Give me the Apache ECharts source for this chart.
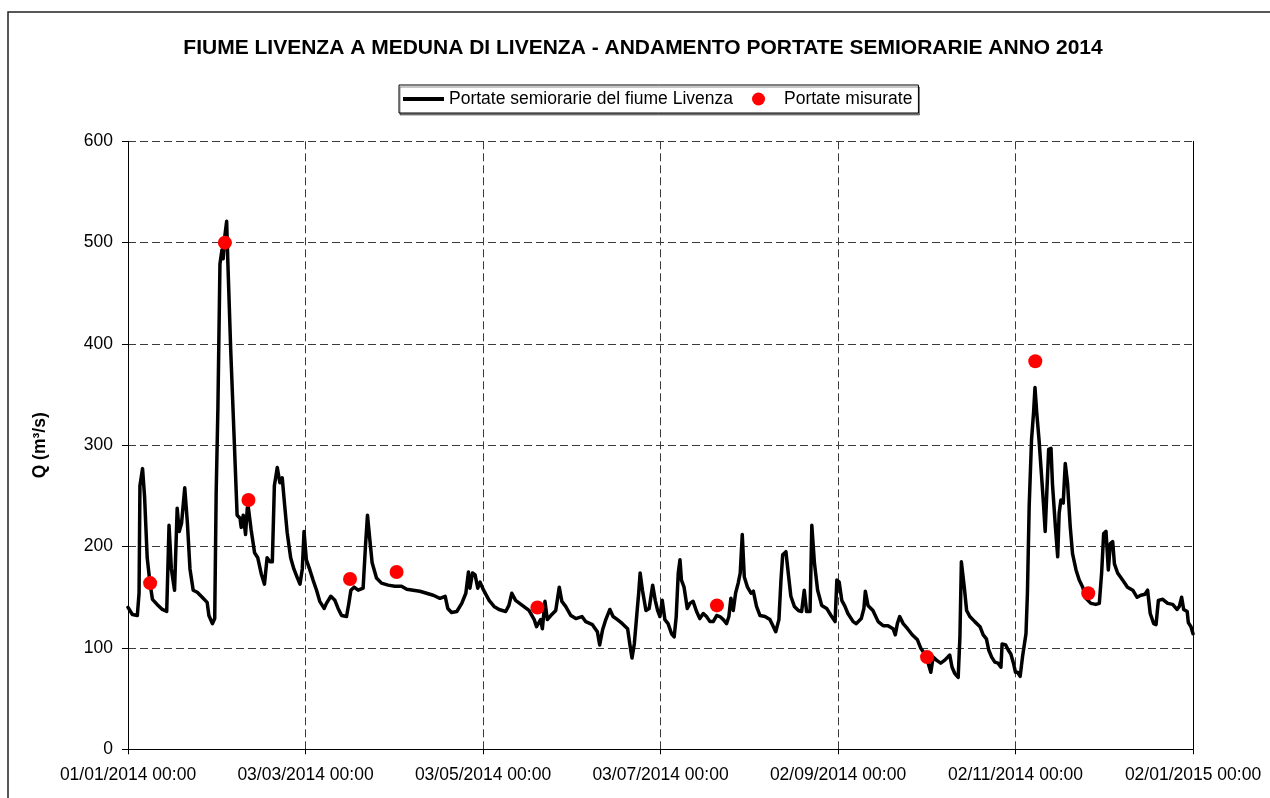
<!DOCTYPE html>
<html>
<head>
<meta charset="utf-8">
<script src="https://cdn.jsdelivr.net/npm/echarts@6/dist/echarts.min.js"></script>
<style>
  html, body { margin: 0; padding: 0; background: #fff; }
  #main { width: 1270px; height: 798px; }
</style>
</head>
<body>
<div id="main"></div>
<script>
// giorni dal 01/01/2014 00:00 e portate semiorarie
var flowDays = [
  0, 1.5, 3.2, 3.8, 4.1, 5.0, 5.7, 6.6, 7.6, 8.4, 10, 11.8, 13.3, 14.1, 14.9, 16, 16.9, 17.6, 18.4, 19.5,
  20.4, 21.3, 22.4, 23.8, 25.5, 27.2, 27.8, 29, 29.8, 30.3, 30.9, 31.6, 32.3, 32.7, 33.3, 33.9, 34.3, 35.3, 36.4, 37.5,
  38.5, 38.9, 39.6, 40.4, 41, 41.3, 42.3, 43.5, 44.6, 45.8, 46.9, 47.8, 48.8, 49.6, 50.3, 51.3, 52.2, 53, 53.8, 54.7,
  55.9, 57, 58.1, 59.1, 59.9, 60.5, 61.3, 62.5, 63.6, 64.8, 65.9, 67.4, 68.2, 69.7, 71.1, 72.2, 73.4, 75.1, 75.9, 76.6,
  77.7, 79.1, 80.8, 81.6, 82.3, 83.1, 83.9, 85.4, 87.1, 89.4, 91.7, 94, 95.8, 98, 100.3, 102.6, 104.9, 107.2, 109, 109.9,
  111.2, 113, 114.7, 116.1, 117, 117.5, 118.4, 119.3, 120.2, 121, 122.2, 124.1, 125.8, 127.5, 129.8, 130.9, 131.9, 133.2, 135.5, 137.8,
  139.6, 140.4, 141.8, 142.4, 143.3, 144.1, 145.3, 147, 148.2, 149.1, 150.4, 152.2, 153.9, 156, 157.3, 159.6, 161.3, 162.1, 163.1, 164.2,
  165.6, 166.7, 168.2, 169.9, 171.7, 172.5, 173.2, 174, 174.8, 175.5, 176, 176.8, 178, 179.1, 180.3, 181.2, 182, 182.8, 183.6, 184.5,
  185.6, 186.8, 187.7, 188.4, 189.1, 189.7, 190.2, 191.1, 192.2, 193.1, 194.2, 195.4, 196.5, 197.7, 198.8, 200, 201.1, 202.3, 203.4, 204.6,
  205.7, 206.5, 207.2, 208, 208.8, 209.7, 210.4, 211.1, 211.8, 212.9, 214.1, 214.9, 216, 217.2, 218.9, 220.6, 221.8, 222.6, 223.7, 224.4,
  225, 226.1, 226.9, 227.8, 229, 230.4, 231.5, 232.4, 233.2, 234.4, 235, 235.9, 237, 238.4, 240.1, 241.6, 243, 243.6, 244.4, 245.3,
  246.4, 247.4, 249.2, 250.3, 252, 252.9, 253.4, 254.3, 256, 257.8, 259.5, 261.2, 262.9, 263.7, 264.4, 265.2, 266.4, 267.9, 269.5, 271.3,
  272.4, 273.6, 275, 275.9, 276.7, 277.8, 279.3, 280.7, 282.4, 283.2, 284.1, 285.3, 285.9, 286.4, 287.4, 288.2, 289.3, 291, 292.8, 293.9,
  295, 295.8, 296.8, 297.9, 299, 300, 300.4, 301.6, 302.5, 303.4, 304.3, 305, 305.7, 306.6, 307.4, 308.6, 309.1, 309.7, 310.5, 311.2,
  311.7, 312.3, 313.1, 313.9, 314.6, 315.2, 315.8, 316.4, 317.2, 317.7, 318.7, 319.5, 320, 320.6, 321.4, 322.1, 322.9, 323.8, 324.6, 325.8,
  326.9, 328.1, 329.2, 330.9, 332.6, 333.8, 334.6, 335.3, 336.1, 336.9, 337.6, 338.4, 339, 340.1, 341.8, 343.5, 345.3, 346.8, 348.1, 349.5,
  350.4, 351.3, 352.5, 353.3, 354.1, 355.6, 357.3, 359, 360.5, 361.3, 362.1, 362.8, 364, 364.4, 365.3, 366
];
var flowValues = [
  140, 133, 132, 154, 260, 277, 249, 189, 163, 148, 143, 138, 136, 221, 178, 157, 238, 215, 223, 258,
  224, 178, 157, 155, 150, 145, 132, 124, 129, 253, 337, 479, 493, 484, 507, 521, 482, 394, 313, 231,
  228, 219, 231, 212, 238, 240, 217, 194, 189, 173, 163, 189, 185, 185, 260, 278, 263, 268, 242, 214,
  189, 178, 170, 163, 178, 215, 187, 177, 167, 157, 146, 139, 144, 151, 147, 139, 132, 131, 144, 157,
  160, 157, 159, 200, 231, 207, 184, 169, 164, 162, 161, 161, 158, 157, 156, 154, 152, 149, 151, 139,
  135, 136, 144, 154, 175, 159, 174, 172, 159, 165, 157, 147, 141, 138, 136, 142, 154, 147, 142, 137,
  128, 121, 128, 119, 146, 128, 132, 137, 160, 146, 141, 132, 129, 131, 126, 123, 116, 103, 118, 128,
  138, 131, 128, 124, 119, 103, 90, 104, 131, 154, 174, 157, 137, 139, 162, 147, 137, 131, 147, 128,
  124, 114, 111, 131, 174, 187, 167, 160, 139, 144, 146, 136, 129, 134, 131, 126, 126, 132, 131, 128,
  124, 131, 149, 137, 154, 164, 174, 212, 170, 160, 154, 156, 141, 132, 131, 128, 121, 116, 128, 167,
  192, 195, 174, 151, 141, 137, 136, 157, 136, 136, 221, 184, 157, 142, 139, 132, 126, 167, 165, 147,
  141, 134, 126, 124, 129, 139, 156, 142, 137, 126, 122, 122, 119, 113, 124, 131, 124, 119, 113, 108,
  100, 95, 85, 76, 91, 88, 85, 88, 93, 81, 75, 71, 111, 185, 160, 137, 131, 126, 121, 113,
  109, 98, 91, 86, 85, 81, 104, 103, 98, 94, 85, 76, 76, 72, 91, 114, 154, 240, 305, 332,
  357, 332, 305, 272, 243, 215, 256, 296, 297, 262, 220, 190, 233, 246, 243, 282, 262, 220, 193, 177,
  167, 160, 149, 144, 143, 144, 174, 213, 215, 177, 203, 205, 183, 174, 167, 160, 157, 150, 152, 153,
  157, 134, 124, 123, 147, 148, 144, 143, 138, 141, 150, 138, 136, 125, 121, 114
];
// portate misurate
var measDays = [7.6, 33.3, 41.4, 76.3, 92.3, 140.7, 202.4, 274.6, 311.8, 330.0];
var measValues = [164, 500, 246, 168, 175, 140, 142, 91, 383, 154];

var xTickLabels = ['01/01/2014 00:00', '03/03/2014 00:00', '03/05/2014 00:00', '03/07/2014 00:00',
  '02/09/2014 00:00', '02/11/2014 00:00', '02/01/2015 00:00'];
var yTicks = [0, 100, 200, 300, 400, 500, 600];

var FONT = '"Liberation Sans", Arial, sans-serif';

var chart = echarts.init(document.getElementById('main'), null, { renderer: 'canvas' });

function pairs(xs, ys) {
  return xs.map(function (x, i) { return [x, ys[i]]; });
}

var option = {
  animation: false,
  backgroundColor: '#fff',
  textStyle: { fontFamily: FONT, color: '#000' },
  graphic: [{
    type: 'rect',
    silent: true,
    z: -10,
    shape: { x: 8, y: 12, width: 1300, height: 900 },
    style: { fill: 'none', stroke: '#222', lineWidth: 1.5 }
  }],
  title: {
    text: 'FIUME LIVENZA A MEDUNA DI LIVENZA - ANDAMENTO PORTATE SEMIORARIE ANNO 2014',
    left: 638,
    top: 33,
    textAlign: 'center',
    textStyle: { fontFamily: FONT, fontSize: 21, fontWeight: 'bold', color: '#000' }
  },
  legend: {
    left: 399,
    top: 85,
    orient: 'horizontal',
    padding: [5, 6, 5, 4],
    itemGap: 19,
    itemWidth: 41,
    itemHeight: 13,
    borderColor: '#000',
    borderWidth: 1,
    borderRadius: 0,
    backgroundColor: '#fff',
    shadowColor: 'rgba(0,0,0,0.45)',
    shadowOffsetX: 1,
    shadowOffsetY: 2,
    textStyle: { fontFamily: FONT, fontSize: 17.5, color: '#000' },
    data: [
      {
        name: 'Portate semiorarie del fiume Livenza',
        icon: 'path://M0,0L40,0L40,4L0,4Z',
        itemStyle: { color: '#000' }
      },
      {
        name: 'Portate misurate',
        icon: 'circle',
        itemStyle: { color: '#ff0000' }
      }
    ]
  },
  grid: {
    left: 128,
    right: 77,
    top: 141.3,
    bottom: 48.7,
    containLabel: false
  },
  xAxis: {
    type: 'value',
    min: 0,
    max: 366,
    interval: 61,
    axisLine: { show: true, lineStyle: { color: '#000', width: 1 } },
    axisTick: { show: true, length: 5, lineStyle: { color: '#000' } },
    axisLabel: {
      margin: 17,
      fontFamily: FONT,
      fontSize: 17.5,
      color: '#000',
      showMinLabel: true,
      showMaxLabel: true,
      formatter: function (v) { return xTickLabels[Math.round(v / 61)]; }
    },
    splitLine: { show: true, lineStyle: { color: '#3a3a3a', width: 1, type: [8, 4] } }
  },
  yAxis: [{
    type: 'value',
    min: yTicks[0],
    max: yTicks[yTicks.length - 1],
    interval: 100,
    name: 'Q (m³/s)',
    nameLocation: 'middle',
    nameRotate: 90,
    nameGap: 79,
    nameTextStyle: { fontFamily: FONT, fontSize: 17.5, fontWeight: 'bold', color: '#000' },
    axisLine: { show: true, lineStyle: { color: '#000', width: 1 } },
    axisTick: { show: true, length: 6, lineStyle: { color: '#000' } },
    axisLabel: { margin: 15, fontFamily: FONT, fontSize: 17.5, color: '#000' },
    splitLine: { show: true, lineStyle: { color: '#3a3a3a', width: 1, type: [8, 4] } }
  }, {
    type: 'value',
    position: 'right',
    min: 0,
    max: 600,
    interval: 100,
    axisLine: { show: true, onZero: false, lineStyle: { color: '#000', width: 1 } },
    axisTick: { show: false },
    axisLabel: { show: false },
    splitLine: { show: false }
  }],
  series: [
    {
      name: 'Portate semiorarie del fiume Livenza',
      type: 'line',
      data: pairs(flowDays, flowValues),
      symbol: 'none',
      smooth: false,
      lineStyle: { color: '#000', width: 3.5, join: 'round', cap: 'round' },
      itemStyle: { color: '#000' },
      z: 2
    },
    {
      name: 'Portate misurate',
      type: 'scatter',
      data: pairs(measDays, measValues),
      symbol: 'circle',
      symbolSize: 14,
      itemStyle: { color: '#ff0000', opacity: 1 },
      z: 3
    }
  ]
};
chart.setOption(option);
</script>
</body>
</html>
